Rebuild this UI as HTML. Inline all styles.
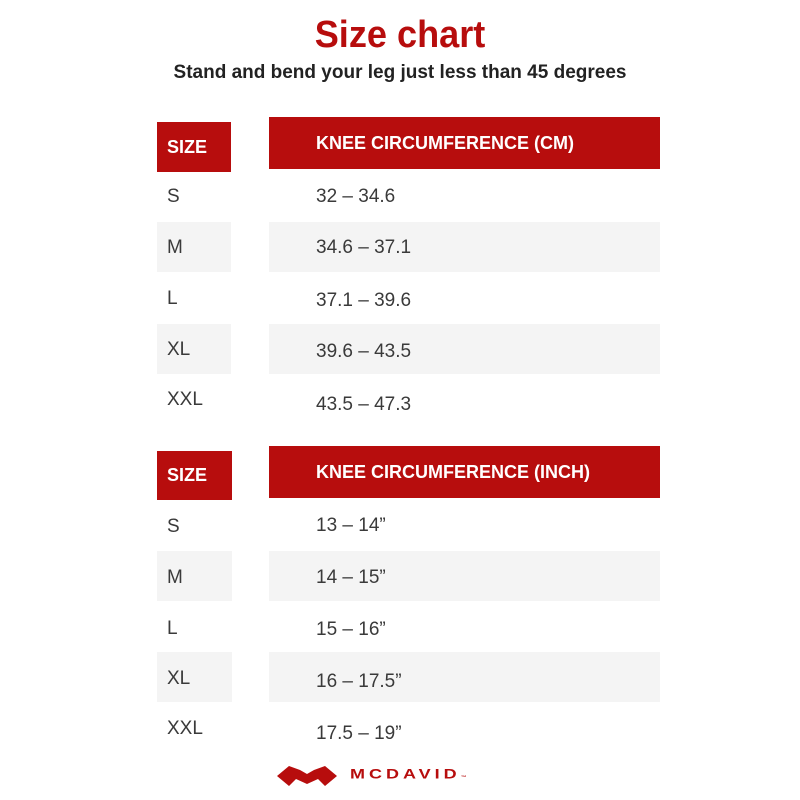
<!DOCTYPE html><html><head><style>
body{margin:0;width:800px;height:800px;background:#fff;position:relative;font-family:"Liberation Sans",sans-serif;overflow:hidden}
.a{position:absolute}
.h{background:#b70d0d;color:#fff;font-weight:bold;font-size:18px;display:flex;align-items:center}
.g{background:#f4f4f4}
.t{position:absolute;font-size:19px;color:#3a3a3a}
</style></head><body>
<div class="a" style="left:0;width:800px;top:14px;text-align:center;color:#b70d0d;font-weight:bold;font-size:38px;transform:scaleX(.95)">Size chart</div>
<div class="a" style="left:0;width:800px;top:62px;text-align:center;color:#222;font-weight:bold;font-size:19px">Stand and bend your leg just less than 45 degrees</div>

<div class="a h" style="left:157px;top:122px;width:74px;height:50px;padding-left:10px;box-sizing:border-box">SIZE</div>
<div class="a h" style="left:269px;top:117px;width:391px;height:52px;padding-left:47px;box-sizing:border-box">KNEE CIRCUMFERENCE (CM)</div>
<div class="a g" style="left:157px;top:222px;width:74px;height:50px"></div>
<div class="a g" style="left:269px;top:222px;width:391px;height:50px"></div>
<div class="a g" style="left:157px;top:324px;width:74px;height:50px"></div>
<div class="a g" style="left:269px;top:324px;width:391px;height:50px"></div>
<div class="t" style="left:167px;top:186px">S</div><div class="t" style="left:316px;top:186px">32 – 34.6</div>
<div class="t" style="left:167px;top:237px">M</div><div class="t" style="left:316px;top:237px">34.6 – 37.1</div>
<div class="t" style="left:167px;top:288px">L</div><div class="t" style="left:316px;top:290px">37.1 – 39.6</div>
<div class="t" style="left:167px;top:339px">XL</div><div class="t" style="left:316px;top:341px">39.6 – 43.5</div>
<div class="t" style="left:167px;top:389px">XXL</div><div class="t" style="left:316px;top:394px">43.5 – 47.3</div>

<div class="a h" style="left:157px;top:451px;width:75px;height:49px;padding-left:10px;box-sizing:border-box">SIZE</div>
<div class="a h" style="left:269px;top:446px;width:391px;height:52px;padding-left:47px;box-sizing:border-box">KNEE CIRCUMFERENCE (INCH)</div>
<div class="a g" style="left:157px;top:551px;width:75px;height:50px"></div>
<div class="a g" style="left:269px;top:551px;width:391px;height:50px"></div>
<div class="a g" style="left:157px;top:652px;width:75px;height:50px"></div>
<div class="a g" style="left:269px;top:652px;width:391px;height:50px"></div>
<div class="t" style="left:167px;top:516px">S</div><div class="t" style="left:316px;top:515px">13 – 14”</div>
<div class="t" style="left:167px;top:567px">M</div><div class="t" style="left:316px;top:567px">14 – 15”</div>
<div class="t" style="left:167px;top:618px">L</div><div class="t" style="left:316px;top:619px">15 – 16”</div>
<div class="t" style="left:167px;top:668px">XL</div><div class="t" style="left:316px;top:671px">16 – 17.5”</div>
<div class="t" style="left:167px;top:718px">XXL</div><div class="t" style="left:316px;top:723px">17.5 – 19”</div>

<svg class="a" style="left:276px;top:764px" width="62" height="24" viewBox="0 0 62 24">
<path d="M1 12 L13 2 L24 6 L31 10 L38 6 L49 2 L61 12 L49 22 L42 15 L31 20 L20 15 L13 22 Z" fill="#b70d0d"/>
</svg>
<div class="a" style="left:350px;top:764px;color:#b70d0d;font-size:18px;letter-spacing:4px;transform:scaleY(.75);font-weight:bold">MCDAVID<span style="font-size:6px">™</span></div>
</body></html>
